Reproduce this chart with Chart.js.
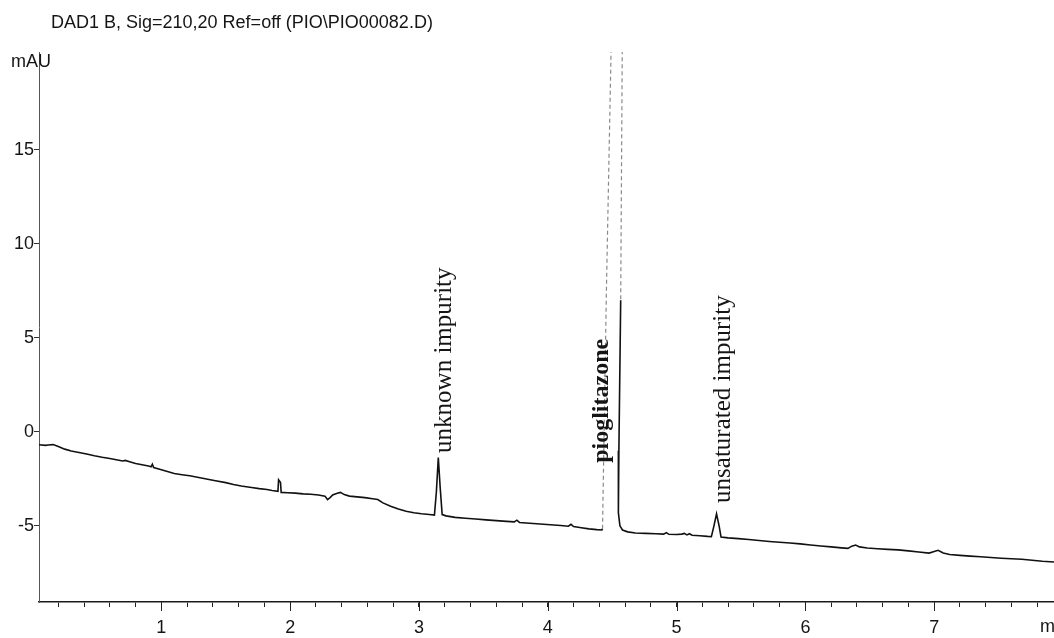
<!DOCTYPE html>
<html>
<head>
<meta charset="utf-8">
<script src="https://cdn.jsdelivr.net/npm/chart.js@4.4.1/dist/chart.umd.min.js"></script>
<style>
  html, body { margin: 0; padding: 0; background: #fff; overflow: hidden; }
  #wrap { width: 1054px; height: 638px; position: relative; }
  canvas { display: block; }
</style>
</head>
<body>
<div id="wrap"><canvas id="chrom" width="1054" height="638"></canvas></div>
<script>
// DAD1 B signal trace: retention time (min) and absorbance (mAU)
const retentionTime = [
  0.05, 0.10, 0.12, 0.16, 0.20, 0.25, 0.30, 0.36, 0.42, 0.48,
  0.54, 0.60, 0.66, 0.70, 0.72, 0.76, 0.80, 0.86, 0.90, 0.92,
  0.93, 0.94, 0.98, 1.04, 1.10, 1.16, 1.22, 1.30, 1.36, 1.42,
  1.50, 1.56, 1.62, 1.70, 1.76, 1.82, 1.86, 1.905, 1.91, 1.925,
  1.93, 1.98, 2.04, 2.10, 2.16, 2.22, 2.27, 2.29, 2.31, 2.33,
  2.36, 2.39, 2.42, 2.46, 2.52, 2.58, 2.64, 2.68, 2.72, 2.78,
  2.84, 2.90, 2.96, 3.02, 3.08, 3.12, 3.135, 3.15, 3.165, 3.18,
  3.21, 3.28, 3.36, 3.44, 3.52, 3.60, 3.68, 3.74, 3.76, 3.78,
  3.86, 3.94, 4.02, 4.10, 4.16, 4.18, 4.20, 4.26, 4.32, 4.38,
  4.42, 4.425, 4.455, 4.49, 4.535, 4.578, 4.566, 4.552, 4.548, 4.56,
  4.58, 4.62, 4.68, 4.76, 4.84, 4.90, 4.92, 4.94, 5.00, 5.04,
  5.06, 5.08, 5.10, 5.12, 5.18, 5.24, 5.27, 5.29, 5.31, 5.33,
  5.345, 5.40, 5.48, 5.56, 5.64, 5.72, 5.80, 5.88, 5.96, 6.04,
  6.12, 6.20, 6.28, 6.33, 6.36, 6.39, 6.42, 6.48, 6.56, 6.64,
  6.72, 6.80, 6.88, 6.96, 7.00, 7.03, 7.07, 7.12, 7.20, 7.28,
  7.36, 7.44, 7.52, 7.60, 7.68, 7.76, 7.84, 7.93
];
const absorbance = [
  -0.69, -0.72, -0.70, -0.68, -0.78, -0.92, -1.02, -1.10, -1.18, -1.27,
  -1.35, -1.42, -1.50, -1.55, -1.52, -1.60, -1.68, -1.76, -1.82, -1.86,
  -1.72, -1.90, -1.98, -2.10, -2.22, -2.28, -2.34, -2.44, -2.52, -2.60,
  -2.70, -2.80, -2.88, -2.96, -3.02, -3.07, -3.12, -3.16, -2.55, -2.70,
  -3.22, -3.24, -3.26, -3.30, -3.32, -3.36, -3.42, -3.60, -3.50, -3.36,
  -3.28, -3.22, -3.34, -3.42, -3.46, -3.50, -3.56, -3.60, -3.78, -3.96,
  -4.10, -4.22, -4.30, -4.36, -4.40, -4.43, -3.20, -1.37, -3.00, -4.40,
  -4.47, -4.55, -4.60, -4.64, -4.68, -4.72, -4.76, -4.79, -4.70, -4.82,
  -4.86, -4.90, -4.94, -4.98, -5.02, -4.92, -5.04, -5.10, -5.16, -5.20,
  -5.22, -5.15, 7.50, 19.80, 34.0, 20.20, 7.00, -1.00, -4.30, -5.00,
  -5.22, -5.32, -5.38, -5.40, -5.42, -5.44, -5.36, -5.45, -5.46, -5.44,
  -5.40, -5.48, -5.42, -5.50, -5.53, -5.56, -5.57, -5.00, -4.36, -5.00,
  -5.60, -5.64, -5.68, -5.73, -5.78, -5.83, -5.87, -5.91, -5.96, -6.02,
  -6.07, -6.12, -6.17, -6.20, -6.08, -6.02, -6.12, -6.18, -6.22, -6.25,
  -6.28, -6.33, -6.39, -6.45, -6.36, -6.30, -6.44, -6.52, -6.57, -6.61,
  -6.64, -6.68, -6.72, -6.75, -6.78, -6.83, -6.88, -6.92
];

// Axis ticks
const xMajorTicks = [1, 2, 3, 4, 5, 6, 7];
const xTickLabels = ['1', '2', '3', '4', '5', '6', '7'];
const xMinorStep = 0.2;
const yTicks = [-5, 0, 5, 10, 15];
const yTickLabels = ['-5', '0', '5', '10', '15'];

// Peak names and where each label starts (time, mAU)
const peakNames = ['unknown impurity', 'pioglitazone', 'unsaturated impurity'];
const peakLabelTimes = [3.245, 4.469, 5.415];
const peakLabelLevels = [-1.12, -1.65, -3.78];

const titleText = 'DAD1 B, Sig=210,20 Ref=off (PIO\\PIO00082.D)';
const yUnit = 'mAU';
const xUnit = 'min';

const points = retentionTime.map((t, i) => ({ x: t, y: absorbance[i] }));

const SANS = '"Liberation Sans", Arial, sans-serif';
const SERIF = '"Liberation Serif", "Times New Roman", serif';

// Steep edges of the main peak print faint and broken:
// the whole rising flank and the upper part of the falling flank
function faintEdge(ctx) {
  const a = ctx.p0.parsed, b = ctx.p1.parsed;
  const dt = Math.abs(b.x - a.x) || 1e-6;
  const slope = Math.abs(b.y - a.y) / dt;
  if (slope < 150) return false;
  if (b.y > a.y) return Math.max(a.y, b.y) > -1;
  return Math.min(a.y, b.y) > 5;
}

const textPlugin = {
  id: 'chromText',
  afterDraw(chart) {
    const { ctx, scales } = chart;
    const xs = scales.x, ys = scales.y;
    ctx.save();

    // longer marks at whole minutes
    ctx.strokeStyle = '#222';
    ctx.lineWidth = 1;
    xMajorTicks.forEach(v => {
      const px = Math.round(xs.getPixelForValue(v)) + 0.5;
      ctx.beginPath();
      ctx.moveTo(px, xs.top);
      ctx.lineTo(px, xs.top + 9);
      ctx.stroke();
    });

    ctx.fillStyle = '#151515';
    ctx.textBaseline = 'middle';
    ctx.textAlign = 'left';
    ctx.font = '18px ' + SANS;
    ctx.fillText(titleText, 51, 23);
    ctx.fillText(yUnit, 11, 62);
    ctx.fillText(xUnit, 1040, 627);

    peakNames.forEach((name, i) => {
      const px = xs.getPixelForValue(peakLabelTimes[i]);
      const py = ys.getPixelForValue(peakLabelLevels[i]);
      ctx.save();
      ctx.translate(px, py);
      ctx.rotate(-Math.PI / 2);
      ctx.textBaseline = 'alphabetic';
      ctx.textAlign = 'left';
      ctx.font = (i === 1 ? 'bold 24px ' : '25px ') + SERIF;
      ctx.fillText(name, 0, 0);
      ctx.restore();
    });
    ctx.restore();
  }
};

new Chart(document.getElementById('chrom'), {
  type: 'line',
  data: {
    datasets: [{
      data: points,
      borderColor: '#111',
      borderWidth: 1.6,
      pointRadius: 0,
      tension: 0,
      fill: false,
      segment: {
        borderColor: ctx => faintEdge(ctx) ? '#8a8a8a' : undefined,
        borderDash: ctx => faintEdge(ctx) ? [4, 3] : undefined,
        borderWidth: ctx => faintEdge(ctx) ? 1.2 : undefined
      }
    }]
  },
  plugins: [textPlugin],
  options: {
    responsive: false,
    animation: false,
    devicePixelRatio: 1,
    layout: { padding: { top: 52, right: 0, left: 0, bottom: 0 } },
    plugins: {
      legend: { display: false },
      tooltip: { enabled: false },
      title: { display: false }
    },
    scales: {
      x: {
        type: 'linear',
        min: 0.05,
        max: 7.93,
        afterBuildTicks(scale) {
          const ticks = [];
          for (let k = 1; k * xMinorStep < scale.max; k++) {
            ticks.push({ value: Math.round(k * xMinorStep * 100) / 100 });
          }
          scale.ticks = ticks;
        },
        afterFit(scale) { scale.height = 36; },
        ticks: {
          autoSkip: false,
          maxRotation: 0,
          padding: 10,
          color: '#151515',
          font: { family: SANS, size: 18 },
          callback(value) {
            const i = xMajorTicks.indexOf(Math.round(value * 100) / 100);
            return i >= 0 ? xTickLabels[i] : '';
          }
        },
        grid: {
          drawOnChartArea: false,
          drawTicks: true,
          tickLength: 5,
          tickColor: '#222',
          tickWidth: 1
        },
        border: { display: true, color: '#1a1a1a', width: 1.6 }
      },
      y: {
        type: 'linear',
        min: -9.05,
        max: 20.2,
        afterBuildTicks(scale) {
          scale.ticks = yTicks.map(v => ({ value: v }));
        },
        afterFit(scale) { scale.width = 39; },
        ticks: {
          padding: 0,
          color: '#151515',
          font: { family: SANS, size: 18 },
          callback(value) {
            const i = yTicks.indexOf(value);
            return i >= 0 ? yTickLabels[i] : '';
          }
        },
        grid: {
          drawOnChartArea: false,
          drawTicks: true,
          tickLength: 5,
          tickColor: '#333',
          tickWidth: 1
        },
        border: { display: true, color: '#555', width: 1, dash: [2, 3] }
      }
    }
  }
});
</script>
</body>
</html>
